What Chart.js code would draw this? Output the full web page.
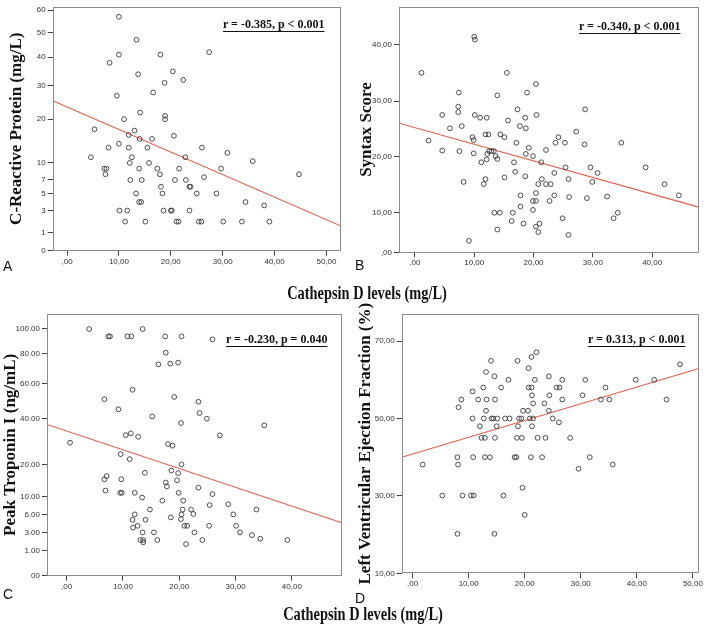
<!DOCTYPE html>
<html>
<head>
<meta charset="utf-8">
<script src="https://cdn.jsdelivr.net/npm/chart.js@4.4.1/dist/chart.umd.min.js"></script>
<style>
  body { margin: 0; background: #fff; }
  #wrap { position: relative; width: 708px; height: 624px; overflow: hidden; }
  canvas { position: absolute; }
  .corr { position: absolute; font: bold 12px 'Liberation Serif', 'Times New Roman', serif; line-height: 12px;
          text-decoration: underline; text-underline-offset: 3px; color: #111; white-space: nowrap; }
  .tag { position: absolute; font: 14px 'Liberation Sans', Arial, sans-serif; line-height: 14px; color: #111; }
  .xtitle { position: absolute; width: 260px; text-align: center; font: bold 18px 'Liberation Serif', 'Times New Roman', serif;
            line-height: 18px; color: #111; transform: scaleX(0.8); white-space: nowrap; }
</style>
</head>
<body>
<div id="wrap">
  <canvas id="chartA" width="345" height="266" style="left:0;top:0"></canvas>
  <canvas id="chartB" width="348" height="266" style="left:354px;top:0"></canvas>
  <canvas id="chartC" width="345" height="290" style="left:0;top:300px"></canvas>
  <canvas id="chartD" width="350" height="290" style="left:354px;top:300px"></canvas>

  <div class="corr" style="left:223px;top:18px">r = -0.385, p &lt; 0.001</div>
  <div class="corr" style="left:579px;top:20px">r = -0.340, p &lt; 0.001</div>
  <div class="corr" style="left:226px;top:333px">r = -0.230, p = 0.040</div>
  <div class="corr" style="left:588px;top:333px">r = 0.313, p &lt; 0.001</div>

  <div class="tag" style="left:3px;top:259px">A</div>
  <div class="tag" style="left:355px;top:258px">B</div>
  <div class="tag" style="left:3px;top:587px">C</div>
  <div class="tag" style="left:355px;top:591px">D</div>

  <div class="xtitle" style="left:237px;top:284px">Cathepsin D levels (mg/L)</div>
  <div class="xtitle" style="left:233px;top:605px">Cathepsin D levels (mg/L)</div>
</div>

<script>
// --- dados ---
const xTicks = [0, 10, 20, 30, 40, 50];

// A: CRP
const crpCathepsin = [10.0,13.4,10.0,18.0,27.4,8.2,13.7,20.4,22.4,18.8,16.6,9.6,14.1,18.9,18.9,11.0,5.3,13.0,11.9,20.6,14.0,16.4,10.0,8.0,11.9,15.5,26.0,30.9,4.6,12.5,22.8,35.8,12.1,15.8,7.2,7.6,13.9,17.4,21.6,29.7,7.4,17.9,44.7,26.4,12.2,14.4,20.8,22.9,18.1,23.6,23.8,13.3,18.4,25.0,28.8,13.9,14.3,34.4,38.0,10.1,11.6,18.6,20.0,20.2,23.6,11.2,15.1,21.1,21.5,25.4,25.9,30.1,33.7,39.0];
const crpValues = [57,47,41,41,42,38,34,35,32,31,28,27,22,21,20,20,17.7,17.4,16.4,16.2,15.5,15.5,14.4,13.5,13.5,13.5,13.5,12.3,11.3,11.3,11.3,10.4,10,10,9,9,9,9,9,9,8,8,8,7.5,7,7,7,7,6,6,6,5,5,5,5,4,4,4,3.6,3,3,3,3,3,3,2,2,2,2,2,2,2,2,2];
const crpFitX = [-2.76, 52.8];
const crpFitY = [25.5, 1.6];
const crpTicks = [0, 1, 3, 5, 7, 10, 20, 30, 40, 50, 60];
const crpTickLabels = ['0', '1', '3', '5', '7', '10', '20', '30', '40', '50', '60'];
const crpAxisStops = [0, 18.3, 40.7, 58, 71.7, 89, 133.3, 167.3, 196.3, 221.3, 244];

// B: Syntax
const synCathepsin = [10.0,10.1,1.1,15.5,20.4,7.4,13.9,18.9,7.3,7.3,17.3,28.7,4.6,10.1,11.0,12.1,18.6,20.5,15.7,5.9,7.9,17.7,18.7,27.2,11.9,12.4,14.4,15.1,24.2,9.7,2.3,9.9,17.1,23.7,25.3,34.8,28.6,19.2,22.1,4.6,7.5,9.9,12.5,12.9,13.3,12.2,13.6,13.9,12.1,18.7,19.9,11.2,16.7,21.3,16.9,23.5,29.6,25.4,38.9,30.8,15.1,18.6,21.4,11.9,25.9,8.2,29.9,11.6,20.8,22.1,22.9,42.1,20.4,17.8,23.5,26.0,32.4,44.5,29.0,19.9,20.4,22.7,17.8,13.4,14.3,16.5,19.9,34.2,16.3,18.3,21.0,33.5,24.9,20.4,20.8,13.9,25.9,9.1];
const synValues = [41.4,40.9,35,35,33,31.5,31,31.5,29,28,28.5,28.5,27.5,27.5,27,27,27,27.5,26.5,25.1,25.5,25.5,25.1,24.5,24,24,24,23.5,23.5,23.5,22.9,23,22.5,22.5,22.5,22.5,22.2,21.6,21.2,21.1,21,20.6,21,21,21,20.5,20.1,19.6,19.5,20.5,20.1,19,19,19,17.3,17.1,18.1,18.1,18.1,17.1,16.3,16.5,16,16,16,15.5,15.5,15.1,15.1,15.1,15.1,15.1,13.5,13.1,13.1,12.8,12.9,13.1,12.6,12.1,12.1,12.1,11.1,10,10,10,10.5,10,7.9,7.25,7.25,8.6,8.6,6.5,5.1,5.75,4.4,2.9];
const synFitX = [-2.69, 47.85];
const synFitY = [26.0, 11.0];
const synTicks = [0, 10, 20, 30, 40];
const synTickLabels = [',00', '10,00', '20,00', '30,00', '40,00'];
const synAxisStops = [0, 40, 96.7, 153, 210];

// C: Troponina
const tnCathepsin = [4.0,13.5,7.4,7.7,10.8,11.5,17.5,20.4,25.9,17.6,16.3,18.4,19.8,11.7,6.7,19.1,23.4,9.2,23.6,15.2,24.9,20.3,35.1,10.5,11.4,12.7,27.2,0.6,18.0,18.8,9.6,11.2,20.4,18.6,13.9,19.8,7.1,6.7,9.7,19.6,17.6,17.8,23.4,6.9,9.5,9.8,12.1,19.9,25.9,13.4,17.0,20.7,28.7,25.4,14.8,20.6,22.1,33.7,12.1,20.4,22.5,29.6,18.5,11.7,14.0,20.3,12.6,20.9,21.4,25.3,30.1,11.8,13.5,15.5,22.7,30.8,32.9,34.4,13.1,13.6,16.1,24.1,39.2,13.6,21.2];
const tnValues = [99.5,99.5,93.7,93.7,93.7,93.7,93.7,93.7,91.3,80.8,72.8,73.3,74,56.4,51.1,52.3,49.6,45.3,43.2,41.3,40,38.1,37.1,32.8,33.6,32.1,32.7,29.5,28.9,28.2,24.5,22.3,20,18.1,17.4,17.3,16.4,15.4,15.4,15.1,14.4,13.2,12.8,11.9,11.2,11.2,11.2,11.2,10.8,9.8,9.1,9.1,8.3,8.1,7.1,7.1,7.1,7.1,6,6,6.1,6,5.5,5.1,5.1,5.2,4.1,4.1,4.1,4.1,4.1,3.8,3,3,3,3,2.7,2.3,2.15,2.15,2.15,2.15,2.15,1.9,1.7];
const tnFitX = [-3.49, 48.85];
const tnFitY = [37.5, 4.6];
const tnTicks = [0, 1, 3, 6, 10, 20, 40, 60, 80, 100];
const tnTickLabels = ['00', '1.00', '3.00', '6.00', '10.00', '20.00', '40.00', '60.00', '80.00', '100.00'];
const tnAxisStops = [0, 25.3, 43.3, 61.3, 79, 111.3, 157, 192.3, 222, 247.3];

// D: FEVE
const efCathepsin = [22.1,14.0,18.7,21.2,20.7,47.7,13.1,14.6,24.3,17.1,21.8,26.7,30.8,39.8,43.1,12.6,15.8,20.7,21.2,25.7,26.2,34.4,10.7,21.3,24.4,30.3,8.7,11.7,13.2,14.7,26.7,33.6,35.1,45.3,8.2,13.1,19.7,20.6,24.3,21.5,23.5,10.7,12.7,14.1,14.4,15.1,16.5,17.3,19.0,19.4,20.9,21.5,25.0,26.1,12.0,15.0,18.8,21.3,12.3,12.9,14.7,18.6,19.5,22.3,23.7,28.1,8.0,10.8,12.9,13.8,18.2,18.5,21.1,23.1,31.6,1.8,8.1,35.7,29.6,5.3,8.9,10.4,10.9,16.2,19.6,20.0,8.0,14.6];
const efValues = [67.1,64.9,64.9,65.9,63,64,62,60.9,60.9,60,60,60,60,60,60,58,58,58,58,58,58,58,57,56,56,56,54.9,54.9,54.9,54.9,54.9,54.9,54.9,54.9,52.9,52,52,52,52,53.9,53.9,50,50,50,50,50,50,50,50,50,50,50,50,49,48,48,48,48,45,45,45,45,45,45,45,45,40,40,40,40,40,40,40,40,40,38.1,38.1,38.1,37,30.1,30.1,30.1,30.1,30.1,32.1,25.1,20.2,20.2];
const efFitX = [-1.94, 51.06];
const efFitY = [40.0, 62.9];
const efTicks = [10, 30, 50, 70];
const efTickLabels = ['10,00', '30,00', '50,00', '70,00'];

// eixo Y não linear da figura original: interpolação entre as marcas
function warp(ticks, stops) {
    return v => {
        let i = 1;
        while (i < ticks.length - 1 && v > ticks[i]) i++;
        const t = (v - ticks[i - 1]) / (ticks[i] - ticks[i - 1]);
        return stops[i - 1] + t * (stops[i] - stops[i - 1]);
    };
}

const tickFont = { family: "'Liberation Sans Narrow', 'Liberation Sans', Arial, sans-serif", size: 8 };

// moldura cinza em volta da área do gráfico
const frame = {
    id: 'frame',
    afterDraw(chart) {
        const { ctx, chartArea: a } = chart;
        ctx.save();
        ctx.strokeStyle = '#8c8c8c';
        ctx.lineWidth = 1;
        ctx.strokeRect(Math.round(a.left) + 0.5, Math.round(a.top) + 0.5,
            Math.round(a.right - a.left) - 1, Math.round(a.bottom - a.top) - 1);
        ctx.restore();
    }
};

function panel(id, o) {
    const toY = o.stops ? warp(o.ticks, o.stops) : v => v;
    const points = o.xs.map((x, i) => ({ x, y: toY(o.ys[i]) }));
    const fit = o.fitX.map((x, i) => ({ x, y: toY(o.fitY[i]) }));

    new Chart(document.getElementById(id), {
        type: 'scatter',
        data: {
            datasets: [{
                data: points,
                pointRadius: 2.4,
                pointHoverRadius: 2.4,
                pointBorderWidth: 0.9,
                pointBorderColor: '#3a3a3a',
                pointBackgroundColor: 'rgba(0,0,0,0)'
            }, {
                type: 'line',
                data: fit,
                showLine: true,
                pointRadius: 0,
                borderColor: '#e0604c',
                borderWidth: 1.1,
                fill: false
            }]
        },
        options: {
            responsive: false,
            animation: false,
            events: [],
            layout: { padding: o.pad },
            plugins: { legend: { display: false }, tooltip: { enabled: false } },
            scales: {
                x: {
                    type: 'linear', min: o.xMin, max: o.xMax,
                    afterBuildTicks: ax => { ax.ticks = xTicks.filter(v => v >= o.xMin && v <= o.xMax).map(v => ({ value: v })); },
                    afterFit: ax => { ax.height = o.xH; },
                    grid: { drawOnChartArea: false, tickLength: 5, tickColor: '#444' },
                    border: { display: false },
                    ticks: { font: tickFont, color: '#333', padding: 1, maxRotation: 0, autoSkip: false,
                             callback: v => (v === 0 ? '' : v) + ',00' }
                },
                y: {
                    type: 'linear', min: o.yMin, max: o.yMax,
                    afterBuildTicks: ax => { ax.ticks = o.ticks.map(v => ({ value: toY(v) })); },
                    afterFit: ax => { ax.width = o.yW; },
                    grid: { drawOnChartArea: false, tickLength: 5, tickColor: '#444' },
                    border: { display: false },
                    ticks: { font: tickFont, color: '#333', padding: 2, autoSkip: false,
                             callback: (v, i) => o.labels[i] },
                    title: {
                        display: true, text: o.title, color: '#111',
                        font: { family: "'Liberation Serif', 'Times New Roman', serif", size: 17, weight: 'bold' },
                        padding: { top: o.titlePad, bottom: 0 }
                    }
                }
            }
        },
        plugins: [frame]
    });
}

panel('chartA', {
    xs: crpCathepsin, ys: crpValues, fitX: crpFitX, fitY: crpFitY,
    ticks: crpTicks, labels: crpTickLabels, stops: crpAxisStops,
    xMin: -2.76, xMax: 52.8, yMin: 0, yMax: 247.3,
    title: 'C-Reactive Protein (mg/L)', titlePad: 6.8,
    pad: { top: 3.5, right: 4, left: 0, bottom: 0 }, yW: 52.7, xH: 15.3
});

panel('chartB', {
    xs: synCathepsin, ys: synValues, fitX: synFitX, fitY: synFitY,
    ticks: synTicks, labels: synTickLabels, stops: synAxisStops,
    xMin: -2.69, xMax: 47.85, yMin: 0, yMax: 248.3,
    title: 'Syntax Score', titlePad: 2.8,
    pad: { top: 4, right: 2.7, left: 0, bottom: 0 }, yW: 45, xH: 13.7
});

panel('chartC', {
    xs: tnCathepsin, ys: tnValues, fitX: tnFitX, fitY: tnFitY,
    ticks: tnTicks, labels: tnTickLabels, stops: tnAxisStops,
    xMin: -3.49, xMax: 48.85, yMin: 0, yMax: 261.7,
    title: 'Peak Troponin I (ng/mL)', titlePad: 0.8,
    pad: { top: 14, right: 2.7, left: 0, bottom: 0 }, yW: 47, xH: 14.3
});

panel('chartD', {
    xs: efCathepsin, ys: efValues, fitX: efFitX, fitY: efFitY,
    ticks: efTicks, labels: efTickLabels, stops: null,
    xMin: -1.94, xMax: 51.06, yMin: 10, yMax: 77,
    title: 'Left Ventricular Ejection Fraction (%)', titlePad: 1.8,
    pad: { top: 14, right: 2.3, left: 0, bottom: 0 }, yW: 47.7, xH: 16.7
});
</script>
</body>
</html>
